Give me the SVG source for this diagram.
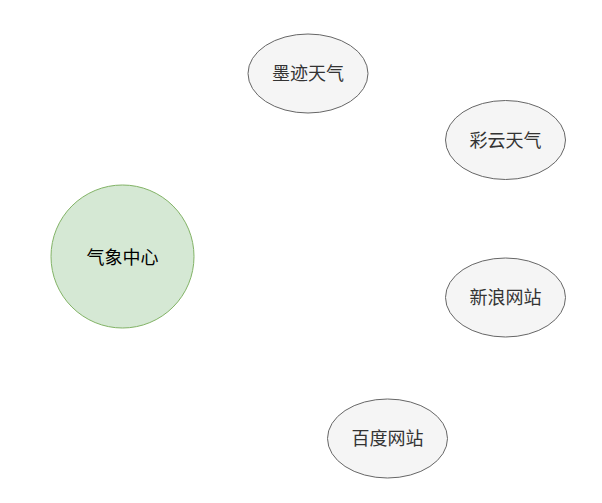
<svg xmlns="http://www.w3.org/2000/svg" width="602" height="503" viewBox="0 0 602 503">
<style>
.n{fill:#f5f5f5;stroke:#666666;stroke-width:1}
.g{fill:#d5e8d4;stroke:#82b366;stroke-width:1}
.t{font-family:"Liberation Sans","Noto Sans CJK SC",sans-serif;font-size:18px;text-anchor:middle;dominant-baseline:central;fill:#333333}
.tg{fill:#000000}
</style>
<rect width="602" height="503" fill="#ffffff"/>
<g id="connectors"></g>
<g id="center"><circle class="g" cx="122.5" cy="256.5" r="71.5"/><text class="t tg" x="122.5" y="257.5">气象中心</text></g>
<g id="moji"><ellipse class="n" cx="308" cy="73.5" rx="60" ry="39.5"/><text class="t" x="308" y="74">墨迹天气</text></g>
<g id="caiyun"><ellipse class="n" cx="505.5" cy="140" rx="60" ry="39.5"/><text class="t" x="505.5" y="140.5">彩云天气</text></g>
<g id="sina"><ellipse class="n" cx="505.5" cy="297.5" rx="60" ry="39.5"/><text class="t" x="505.5" y="298">新浪网站</text></g>
<g id="baidu"><ellipse class="n" cx="387.5" cy="438.5" rx="60" ry="39.5"/><text class="t" x="387.5" y="439">百度网站</text></g>
</svg>
